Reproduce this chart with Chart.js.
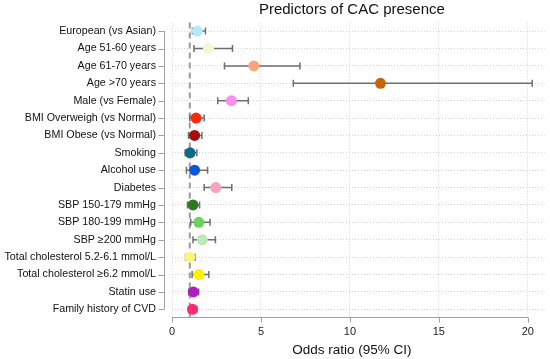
<!DOCTYPE html>
<html>
<head>
<meta charset="utf-8">
<script src="https://cdn.jsdelivr.net/npm/chart.js@4.4.1/dist/chart.umd.min.js"></script>
<style>
  html, body { margin: 0; padding: 0; background: #fff; }
</style>
</head>
<body>
<canvas id="forest" width="550" height="359"></canvas>
<script>
// Données
const facteurs = [
  "European (vs Asian)", "Age 51-60 years", "Age 61-70 years", "Age >70 years",
  "Male (vs Female)", "BMI Overweigh (vs Normal)", "BMI Obese (vs Normal)",
  "Smoking", "Alcohol use", "Diabetes", "SBP 150-179 mmHg", "SBP 180-199 mmHg",
  "SBP \u2265200 mmHg", "Total cholesterol 5.2-6.1 mmol/L",
  "Total cholesterol \u22656.2 mmol/L", "Statin use", "Family history of CVD"
];
const oddsRatio = [1.42, 2.05, 4.60, 11.72, 3.34, 1.35, 1.27, 1.02, 1.27, 2.46, 1.18, 1.51, 1.70, 1.00, 1.51, 1.20, 1.15];
const icBas     = [1.15, 1.24, 2.95, 6.82, 2.57, 1.00, 0.93, 0.74, 0.81, 1.81, 0.87, 1.05, 1.18, 0.76, 1.13, 0.94, 0.93];
const icHaut    = [1.88, 3.40, 7.19, 20.25, 4.29, 1.81, 1.68, 1.40, 2.00, 3.36, 1.55, 2.14, 2.44, 1.29, 2.07, 1.50, 1.40];
const couleurs  = [
  "#b4e9f8", "#fbf6d2", "#fba57c", "#c8650c", "#f291ee", "#ff2a0a", "#a30f0c",
  "#0b6c88", "#0a57de", "#f9a2bc", "#2b7a1d", "#6bd35a", "#bfe8b6", "#fbf57e",
  "#fbf100", "#b01cc2", "#fd2c72"
];
const ticksX = [0, 5, 10, 15, 20];

const police = "'Liberation Sans', Arial, Helvetica, sans-serif";

// Axes, intervalles et titres dessinés à la main (style Stata)
const forestPlugin = {
  id: "forestPlugin",
  beforeDatasetsDraw(chart) {
    const { ctx, chartArea, scales: { x, y } } = chart;
    ctx.save();
    // ligne de référence OR = 1
    const x1 = x.getPixelForValue(1);
    ctx.strokeStyle = "#9b9b9b";
    ctx.lineWidth = 2;
    ctx.setLineDash([6, 4]);
    ctx.beginPath();
    ctx.moveTo(x1, chartArea.top);
    ctx.lineTo(x1, chartArea.bottom);
    ctx.stroke();
    ctx.setLineDash([]);

    // intervalles de confiance
    ctx.strokeStyle = "#6e6e6e";
    ctx.lineWidth = 1.5;
    facteurs.forEach((f, i) => {
      const py = y.getPixelForValue(i);
      const a = x.getPixelForValue(icBas[i]);
      const b = x.getPixelForValue(icHaut[i]);
      ctx.beginPath();
      ctx.moveTo(a, py); ctx.lineTo(b, py);
      ctx.moveTo(a, py - 3.5); ctx.lineTo(a, py + 3.5);
      ctx.moveTo(b, py - 3.5); ctx.lineTo(b, py + 3.5);
      ctx.stroke();
    });
    ctx.restore();
  },
  afterDraw(chart) {
    const { ctx, chartArea, scales: { x, y } } = chart;
    const x0 = x.getPixelForValue(ticksX[0]);
    const xN = x.getPixelForValue(ticksX[ticksX.length - 1]);
    ctx.save();
    ctx.strokeStyle = "#a0a0a0";
    ctx.lineWidth = 1;

    // axe Y décalé
    const ax = Math.round(x0 - 8) + 0.5;
    const yHaut = y.getPixelForValue(0);
    const yBas = y.getPixelForValue(facteurs.length - 1);
    ctx.beginPath();
    ctx.moveTo(ax, yHaut); ctx.lineTo(ax, yBas);
    facteurs.forEach((f, i) => {
      const py = Math.round(y.getPixelForValue(i)) + 0.5;
      ctx.moveTo(ax - 6, py); ctx.lineTo(ax, py);
    });
    ctx.stroke();

    // axe X
    const ay = Math.round(chartArea.bottom - 1) + 0.5;
    ctx.beginPath();
    ctx.moveTo(x0, ay); ctx.lineTo(xN, ay);
    ticksX.forEach(t => {
      const px = Math.round(x.getPixelForValue(t)) + 0.5;
      ctx.moveTo(px, ay); ctx.lineTo(px, ay + 5);
    });
    ctx.stroke();

    // titres
    ctx.fillStyle = "#111";
    ctx.textAlign = "center";
    ctx.textBaseline = "middle";
    ctx.font = "15px " + police;
    ctx.fillText("Predictors of CAC presence", (x0 + xN) / 2 + 2, 10);
    ctx.font = "13.5px " + police;
    ctx.fillText("Odds ratio (95% CI)", (x0 + xN) / 2 + 2, 350);
    ctx.restore();
  }
};

new Chart(document.getElementById("forest"), {
  type: "scatter",
  data: {
    datasets: [{
      data: facteurs.map((f, i) => ({ x: oddsRatio[i], y: f })),
      backgroundColor: couleurs,
      borderWidth: 0,
      pointRadius: 5.5,
      pointHoverRadius: 5.5
    }]
  },
  options: {
    responsive: false,
    animation: false,
    layout: { padding: { top: 19, right: 0, bottom: 0, left: 0 } },
    plugins: {
      legend: { display: false },
      tooltip: { enabled: false },
      title: { display: false }
    },
    scales: {
      x: {
        type: "linear",
        min: 0,
        max: 20.94,
        afterBuildTicks: s => { s.ticks = ticksX.map(v => ({ value: v })); },
        afterFit: s => { s.height = 41; },
        grid: { color: "#d4d4d4", lineWidth: 1, drawTicks: false },
        border: { display: false, dash: [1, 2] },
        ticks: { padding: 7, color: "#222", font: { family: police, size: 11 } }
      },
      y: {
        type: "category",
        labels: facteurs,
        offset: true,
        afterFit: s => { s.width = 172; },
        grid: { color: "#d4d4d4", lineWidth: 1, drawTicks: false },
        border: { display: false, dash: [1, 2] },
        ticks: { padding: 16, color: "#111", font: { family: police, size: 10.7 }, autoSkip: false }
      }
    }
  },
  plugins: [forestPlugin]
});
</script>
</body>
</html>
